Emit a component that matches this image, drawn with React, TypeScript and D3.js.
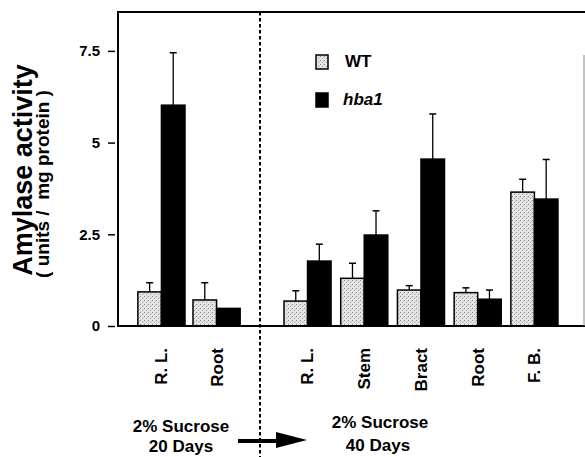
import { useEffect, useRef } from 'react';
import * as d3 from 'd3';

const width = 585;
const height = 457;
const [mt, ml] = [12, 118];
const plotRight = 585;
const plotBottom = 326;
const splitX = 260;

// 20 days panel
const cats20 = ['R. L.', 'Root'];
const wt20 = [0.93, 0.71];
const wtErr20 = [0.25, 0.47];
const hba20 = [6.02, 0.48];
const hbaErr20 = [1.43, 0];

// 40 days panel
const cats40 = ['R. L.', 'Stem', 'Bract', 'Root', 'F. B.'];
const wt40 = [0.68, 1.3, 0.98, 0.91, 3.65];
const wtErr40 = [0.28, 0.41, 0.12, 0.13, 0.35];
const hba40 = [1.77, 2.48, 4.55, 0.73, 3.46];
const hbaErr40 = [0.46, 0.66, 1.23, 0.25, 1.08];

const yTicks = [0, 2.5, 5, 7.5];
const series = ['WT', 'hba1'];

const font = '"Liberation Sans", Arial, Helvetica, sans-serif';

function App() {
    const ref = useRef<SVGSVGElement | null>(null);

    useEffect(() => {
        const svg = d3.select(ref.current);
        svg.selectAll('*').remove();

        // stipple for WT bars
        const pat = svg
            .append('defs')
            .append('pattern')
            .attr('id', 'stipple')
            .attr('width', 4)
            .attr('height', 4)
            .attr('patternUnits', 'userSpaceOnUse');
        pat.append('rect').attr('width', 4).attr('height', 4).attr('fill', '#e4e4e4');
        pat.append('rect').attr('x', 0).attr('y', 0).attr('width', 1).attr('height', 1).attr('fill', '#8a8a8a');
        pat.append('rect').attr('x', 2).attr('y', 2).attr('width', 1).attr('height', 1).attr('fill', '#a8a8a8');
        pat.append('rect').attr('x', 3).attr('y', 1).attr('width', 1).attr('height', 1).attr('fill', '#c4c4c4');

        const y = d3.scaleLinear().domain([0, 8.56]).range([plotBottom, mt]);

        const x20 = d3
            .scaleBand()
            .domain(cats20)
            .range([ml, splitX])
            .paddingInner(0.145)
            .paddingOuter(0.36);
        const x40 = d3
            .scaleBand()
            .domain(cats40)
            .range([splitX, plotRight])
            .paddingInner(0.17)
            .paddingOuter(0.45)
            .align(0.47);

        const panels = [
            { x: x20, cats: cats20, vals: [wt20, hba20], errs: [wtErr20, hbaErr20] },
            { x: x40, cats: cats40, vals: [wt40, hba40], errs: [wtErr40, hbaErr40] }
        ];

        const g = svg.append('g');

        panels.forEach((p) => {
            const sub = d3.scaleBand().domain(series).range([0, p.x.bandwidth()]);
            series.forEach((s, si) => {
                const rows = p.cats.map((c, i) => ({ c, v: p.vals[si][i], e: p.errs[si][i] }));
                // error bars (upper only)
                const eb = g
                    .selectAll(null)
                    .data(rows.filter((d) => d.e > 0))
                    .enter()
                    .append('g')
                    .attr('transform', (d) => `translate(${(p.x(d.c) as number) + (sub(s) as number) + sub.bandwidth() / 2},0)`);
                eb.append('line')
                    .attr('y1', (d) => y(d.v))
                    .attr('y2', (d) => y(d.v + d.e))
                    .attr('stroke', '#000')
                    .attr('stroke-width', 1.3);
                eb.append('line')
                    .attr('x1', -3.5)
                    .attr('x2', 3.5)
                    .attr('y1', (d) => y(d.v + d.e))
                    .attr('y2', (d) => y(d.v + d.e))
                    .attr('stroke', '#000')
                    .attr('stroke-width', 1.5);

                g.selectAll(null)
                    .data(rows)
                    .enter()
                    .append('rect')
                    .attr('x', (d) => (p.x(d.c) as number) + (sub(s) as number))
                    .attr('y', (d) => y(d.v))
                    .attr('width', sub.bandwidth())
                    .attr('height', (d) => y(0) - y(d.v))
                    .attr('fill', si === 0 ? 'url(#stipple)' : '#000')
                    .attr('stroke', '#000')
                    .attr('stroke-width', 1.5);
            });

            // rotated category labels
            g.selectAll(null)
                .data(p.cats)
                .enter()
                .append('text')
                .attr('transform', (c) => `translate(${(p.x(c) as number) + p.x.bandwidth() / 2},348) rotate(-90)`)
                .attr('text-anchor', 'end')
                .attr('dy', '0.35em')
                .attr('font-family', font)
                .attr('font-weight', 'bold')
                .attr('font-size', 17)
                .text((c) => c);
        });

        // frame
        g.append('line').attr('x1', ml).attr('x2', plotRight).attr('y1', mt).attr('y2', mt).attr('stroke', '#000').attr('stroke-width', 2.2);
        g.append('line').attr('x1', ml).attr('x2', ml).attr('y1', mt - 1).attr('y2', plotBottom + 1).attr('stroke', '#000').attr('stroke-width', 2);
        g.append('line').attr('x1', ml).attr('x2', plotRight).attr('y1', plotBottom).attr('y2', plotBottom).attr('stroke', '#000').attr('stroke-width', 2);
        g.append('line').attr('x1', 584).attr('x2', 584).attr('y1', 55).attr('y2', plotBottom).attr('stroke', '#888').attr('stroke-width', 1);

        // y axis
        const yAxisG = g
            .append('g')
            .attr('transform', `translate(${ml},0)`)
            .call(d3.axisLeft(y).tickValues(yTicks).tickSize(10).tickPadding(8).tickFormat((d) => String(d)));
        yAxisG.select('.domain').remove();
        yAxisG.selectAll('.tick line').attr('x1', -3).attr('x2', -10).attr('stroke-width', 1.5);
        yAxisG
            .selectAll('.tick text')
            .attr('font-family', font)
            .attr('font-weight', 'bold')
            .attr('font-size', 15)
            .attr('fill', '#000');

        // y titles
        g.append('text')
            .attr('transform', 'translate(32,170) rotate(-90)')
            .attr('text-anchor', 'middle')
            .attr('font-family', font)
            .attr('font-weight', 'bold')
            .attr('font-size', 27)
            .text('Amylase activity');
        g.append('text')
            .attr('transform', 'translate(49,184) rotate(-90)')
            .attr('text-anchor', 'middle')
            .attr('font-family', font)
            .attr('font-weight', 'bold')
            .attr('font-size', 19)
            .style('white-space', 'pre')
            .text('( units /  mg protein )');

        // dotted divider
        g.append('line')
            .attr('x1', splitX)
            .attr('x2', splitX)
            .attr('y1', mt)
            .attr('y2', height)
            .attr('stroke', '#000')
            .attr('stroke-width', 2)
            .attr('stroke-dasharray', '3.5,2.5');

        // legend
        const leg = g.append('g');
        series.forEach((s, i) => {
            leg.append('rect')
                .attr('x', 316)
                .attr('y', 55 + i * 38)
                .attr('width', 12)
                .attr('height', 14)
                .attr('fill', i === 0 ? 'url(#stipple)' : '#000')
                .attr('stroke', '#000')
                .attr('stroke-width', 1.5);
            leg.append('text')
                .attr('x', i === 0 ? 345 : 343)
                .attr('y', 67 + i * 38)
                .attr('font-family', font)
                .attr('font-weight', 'bold')
                .attr('font-style', i === 0 ? 'normal' : 'italic')
                .attr('font-size', 17)
                .text(s);
        });

        // bottom annotations
        const notes = [
            { x: 181, y: 432, t: '2% Sucrose' },
            { x: 181, y: 452, t: '20 Days' },
            { x: 380, y: 428, t: '2% Sucrose' },
            { x: 378, y: 451, t: '40 Days' }
        ];
        g.selectAll(null)
            .data(notes)
            .enter()
            .append('text')
            .attr('x', (d) => d.x)
            .attr('y', (d) => d.y)
            .attr('text-anchor', 'middle')
            .attr('font-family', font)
            .attr('font-weight', 'bold')
            .attr('font-size', 17)
            .text((d) => d.t);

        // arrow
        g.append('line').attr('x1', 238).attr('x2', 280).attr('y1', 441).attr('y2', 441).attr('stroke', '#000').attr('stroke-width', 4);
        g.append('path').attr('d', 'M276,432 L307,440 L276,448 Z').attr('fill', '#000');
    }, []);

    return (
        <div style={{ position: 'absolute', left: 0, top: 0, background: '#fff' }}>
            <svg ref={ref} width={width} height={height} style={{ display: 'block' }} />
        </div>
    );
}

export default App;
